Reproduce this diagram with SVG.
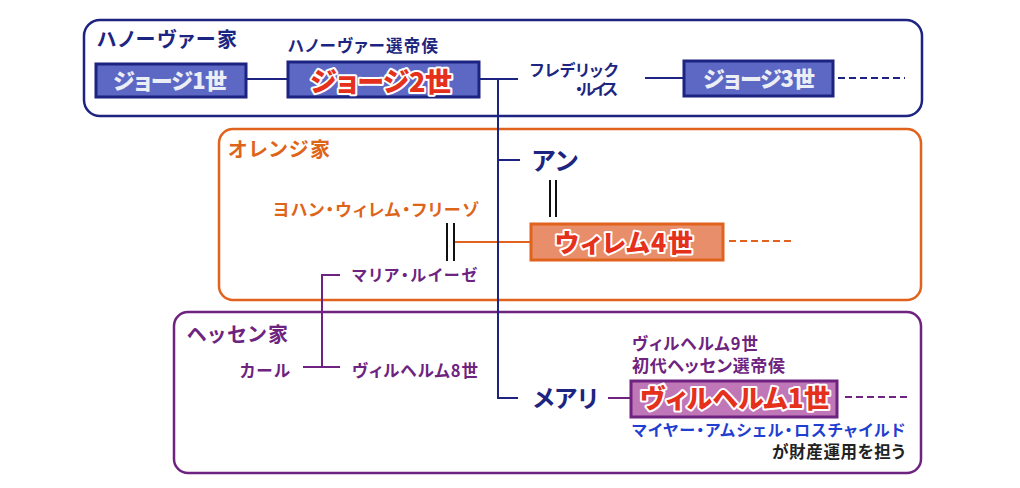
<svg xmlns="http://www.w3.org/2000/svg" width="1020" height="488" viewBox="0 0 1020 488">
<style>
text{font-family:"Noto Sans CJK JP","Noto Sans CJK SC",sans-serif;font-weight:700;font-feature-settings:"palt"}
.navy{fill:#1c2580}
.org{fill:#de6418}
.pur{fill:#6e2380}
.frame{fill:#fff;stroke-width:2.5}
.bbox{fill:#5d68c4;stroke:#1c2380;stroke-width:3}
.obox{fill:#e98e6a;stroke:#e0621c;stroke-width:3}
.pbox{fill:#c077b8;stroke:#6e2380;stroke-width:3}
.wt{fill:#eceef6;font-weight:900}
.rt{fill:#e5301c;stroke:#fff;stroke-width:4;stroke-linejoin:round;paint-order:stroke;font-weight:900}
.ln{fill:none;stroke-width:2}
.dl{stroke-width:2;stroke:#111}
</style>
<g id="frames">
<rect id="hanover-frame" x="84" y="20" width="838" height="96" rx="16" class="frame" stroke="#1c2380"/>
<rect id="orange-frame" x="219" y="129" width="702" height="171" rx="14" class="frame" stroke="#e0621c"/>
<rect id="hessen-frame" x="174" y="312" width="747" height="161" rx="14" class="frame" stroke="#6e2380"/>
<text x="97" y="47" font-size="20" class="navy" textLength="140">ハノーヴァー家</text>
<text x="228" y="157" font-size="20" class="org" textLength="102">オレンジ家</text>
<text x="187" y="342" font-size="20" class="pur" textLength="101">ヘッセン家</text>
</g>
<g id="connectors">
<line x1="455" y1="242" x2="530" y2="242" class="ln" stroke="#e0621c"/>
<line x1="246" y1="79" x2="288" y2="79" class="ln" stroke="#1c2380"/>
<path d="M479 79 H518 M498 79 V398 H518 M498 160 H520" class="ln" stroke="#1c2380"/>
<line x1="645" y1="78" x2="683" y2="78" class="ln" stroke="#1c2380"/>
<line x1="838" y1="78" x2="905" y2="78" class="ln" stroke="#1c2380" stroke-dasharray="7 4"/>
<line x1="729" y1="241" x2="792" y2="241" class="ln" stroke="#e0621c" stroke-dasharray="7 4"/>
<line x1="845" y1="397" x2="907" y2="397" class="ln" stroke="#6e2380" stroke-dasharray="7 4"/>
<path d="M340 275 H322 V367 M303 367 H340" class="ln" stroke="#6e2380"/>
<line x1="608" y1="398" x2="630" y2="398" class="ln" stroke="#6e2380"/>
<line x1="550" y1="180" x2="550" y2="217" class="dl"/>
<line x1="556" y1="180" x2="556" y2="217" class="dl"/>
<line x1="447" y1="223" x2="447" y2="261" class="dl"/>
<line x1="454" y1="223" x2="454" y2="261" class="dl"/>
</g>
<g id="george1">
<rect x="96" y="64" width="150" height="33" class="bbox"/>
<text x="113" y="89" font-size="22" class="wt" textLength="114">ジョージ1世</text>
</g>
<g id="george2">
<text x="288" y="52" font-size="16.5" class="navy" textLength="150">ハノーヴァー選帝侯</text>
<rect x="288" y="62" width="191" height="35" class="bbox"/>
<text x="310" y="92" font-size="27" class="rt" textLength="142">ジョージ2世</text>
</g>
<g id="frederick">
<text x="530" y="76" font-size="16" class="navy" textLength="88">フレデリック</text>
<text x="575" y="95" font-size="16" class="navy" textLength="43">・ルイス</text>
</g>
<g id="george3">
<rect x="684" y="61" width="149" height="35" class="bbox"/>
<text x="703" y="87" font-size="22" class="wt" textLength="112">ジョージ3世</text>
</g>
<g id="anne">
<text x="532" y="170" font-size="25" class="navy" font-weight="900" textLength="46">アン</text>
</g>
<g id="johan">
<text x="273" y="216" font-size="17" class="org" textLength="205">ヨハン・ウィレム・フリーゾ</text>
</g>
<g id="maria">
<text x="352" y="281" font-size="16" class="pur" textLength="125">マリア・ルイーゼ</text>
</g>
<g id="willem4">
<rect x="531" y="224" width="192" height="36" class="obox"/>
<text x="555" y="252" font-size="25" class="rt" textLength="138">ウィレム4世</text>
</g>
<g id="karl">
<text x="240" y="377" font-size="16.5" class="pur" textLength="50">カール</text>
</g>
<g id="wilhelm8">
<text x="352" y="377" font-size="16.5" class="pur" textLength="126">ヴィルヘルム8世</text>
</g>
<g id="mary">
<text x="533" y="407" font-size="24" class="navy" font-weight="900" textLength="65">メアリ</text>
</g>
<g id="wilhelm1">
<text x="632" y="350" font-size="16.5" class="pur" textLength="126">ヴィルヘルム9世</text>
<text x="632" y="372" font-size="17" class="pur" textLength="153">初代ヘッセン選帝侯</text>
<rect x="631" y="381" width="206" height="36" class="pbox"/>
<text x="640" y="408" font-size="26" class="rt" textLength="190">ヴィルヘルム1世</text>
<text x="632" y="436" font-size="16" fill="#1f3fd0" textLength="273">マイヤー・アムシェル・ロスチャイルド</text>
<text x="772" y="458" font-size="16.5" fill="#222" font-weight="400" textLength="133">が財産運用を担う</text>
</g>
</svg>
